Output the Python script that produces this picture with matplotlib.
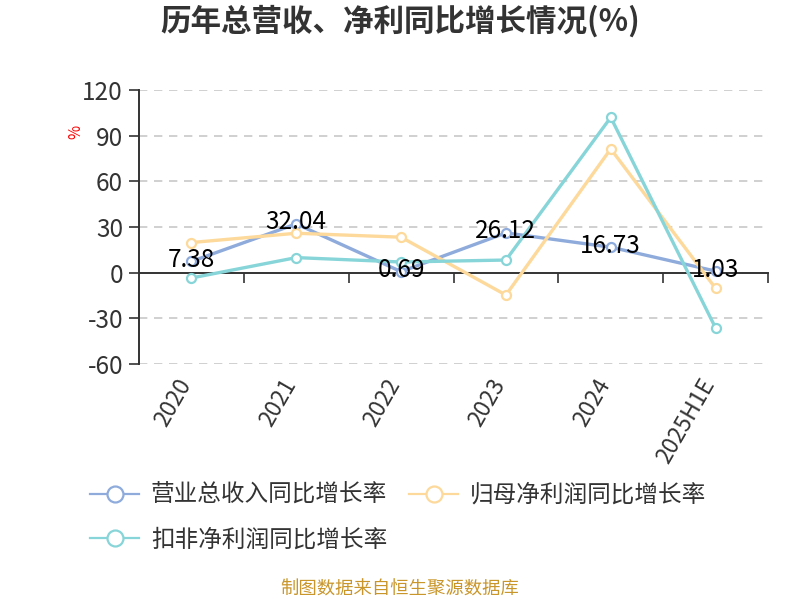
import matplotlib
matplotlib.use("Agg")
import matplotlib.pyplot as plt
from matplotlib.lines import Line2D

plt.rcParams['font.family'] = ['Noto Sans CJK SC', 'DejaVu Sans']

categories = ["2020", "2021", "2022", "2023", "2024", "2025H1E"]
revenue_growth = [7.38, 32.04, 0.69, 26.12, 16.73, 1.03]
net_profit_growth = [19.8, 25.9, 23.3, -14.7, 81.3, -10.3]
deducted_profit_growth = [-3.5, 9.9, 7.0, 8.3, 102.0, -36.3]
series_names = ["营业总收入同比增长率", "归母净利润同比增长率", "扣非净利润同比增长率"]
yticks = [-60, -30, 0, 30, 60, 90, 120]

c_blue = "#8eabdc"
c_yellow = "#fdd99b"
c_teal = "#87d5d8"

fig = plt.figure(figsize=(8, 6), dpi=100)
ax = fig.add_axes([139/800, (600-364)/600, (768-139)/800, (364-90)/600])

x = list(range(len(categories)))
for vals, col, z in [(revenue_growth, c_blue, 3), (net_profit_growth, c_yellow, 4),
                     (deducted_profit_growth, c_teal, 5)]:
    ax.plot(x, vals, color=col, lw=2.4, marker='o', ms=6.5, mfc='white',
            mec=col, mew=1.6, zorder=z, solid_joinstyle='round')

for xi, v in zip(x, revenue_growth):
    ax.text(xi, v + 1, f"{v:.2f}", ha='center', va='center', fontsize=17.5,
            color='black', zorder=10)

ax.set_xlim(-0.5, len(categories) - 0.5)
ax.set_ylim(-60, 120)
ax.set_yticks(yticks)
ax.set_yticklabels([str(t) for t in yticks], fontsize=17.5, color='#333333')
ax.tick_params(axis='y', length=7.5, width=1.2, color='#333333', pad=4)
for t in yticks:
    if t != 0:
        ax.axhline(t, color='#c8c8c8', lw=1.2, ls=(0, (5, 4)), zorder=1)

ax.spines['top'].set_visible(False)
ax.spines['right'].set_visible(False)
ax.spines['left'].set_color('#333333')
ax.spines['left'].set_linewidth(1.4)
ax.spines['bottom'].set_position(('data', 0))
ax.spines['bottom'].set_color('#333333')
ax.spines['bottom'].set_linewidth(1.4)
ax.set_xticks([i + 0.5 for i in x])
ax.set_xticklabels([])
ax.tick_params(axis='x', length=7, width=1.2, color='#333333', direction='out')

for xi, lab in zip(x, categories):
    ax.text(xi - 0.15, -0.04, lab, transform=ax.get_xaxis_transform(),
            rotation=60, ha='right', va='top', rotation_mode='anchor',
            fontsize=16.5, color='#333333')

fig.text(76/800, 1 - 132/600, "%", color='red', rotation=90, fontsize=11,
         ha='center', va='center')

fig.text(0.5, 1 - 21/600, "历年总营收、净利同比增长情况(%)", ha='center', va='center',
         fontsize=22, fontweight='bold', color='#333333')

handles = [Line2D([], [], color=c, lw=1.6, marker='o', ms=11.5, mfc='white', mec=c, mew=1.6)
           for c in (c_blue, c_teal, c_yellow)]
labels = [series_names[0], series_names[2], series_names[1]]
fig.legend(handles, labels, ncol=2, loc='upper left', bbox_to_anchor=(90/800, 1 - 484/600),
           frameon=False, fontsize=17, handlelength=2.08, handletextpad=0.5,
           columnspacing=0.93, labelspacing=0.9, borderpad=0, borderaxespad=0,
           labelcolor='#333333')

fig.text(0.5, 1 - 590/600, "制图数据来自恒生聚源数据库", ha='center', va='center',
         fontsize=13.2, color='#c9962b')

fig.savefig("out.png", dpi=100)
